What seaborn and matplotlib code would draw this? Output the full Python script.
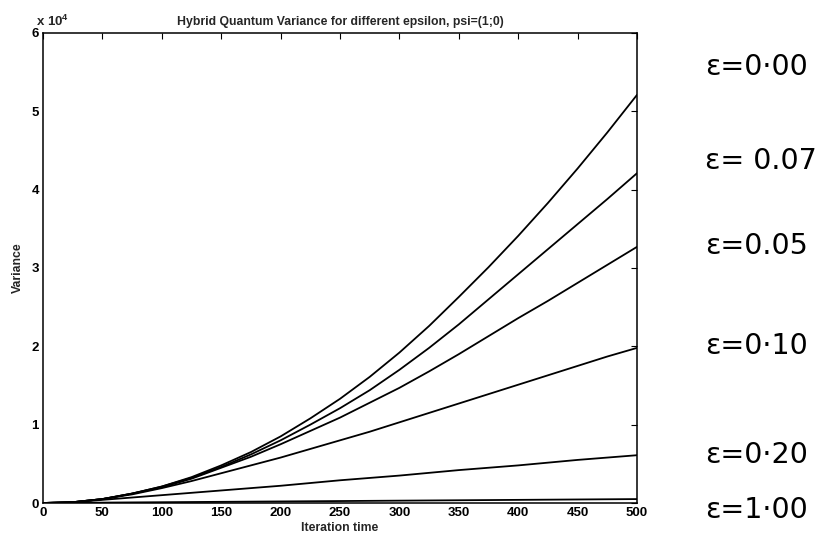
import numpy as np
import pandas as pd
import matplotlib
matplotlib.use("Agg")
import matplotlib.pyplot as plt
import seaborn as sns

# Data (variance values in units of 1e4)
iteration = [0, 25, 50, 75, 100, 125, 150, 175, 200, 225, 250,
             275, 300, 325, 350, 375, 400, 425, 450, 475, 500]
var_eps_000 = [0, 0.01, 0.05, 0.12, 0.21, 0.33, 0.48, 0.65, 0.85, 1.08, 1.33,
               1.61, 1.92, 2.26, 2.63, 3.01, 3.41, 3.83, 4.27, 4.73, 5.21]
var_eps_007 = [0, 0.01, 0.05, 0.12, 0.21, 0.32, 0.46, 0.62, 0.80, 1.00, 1.21,
               1.44, 1.70, 1.98, 2.28, 2.60, 2.92, 3.24, 3.56, 3.88, 4.21]
var_eps_005 = [0, 0.01, 0.05, 0.12, 0.20, 0.31, 0.45, 0.59, 0.75, 0.92, 1.09,
               1.28, 1.47, 1.68, 1.90, 2.13, 2.36, 2.58, 2.81, 3.04, 3.27]
var_eps_010 = [0, 0.01, 0.05, 0.11, 0.19, 0.28, 0.38, 0.48, 0.58, 0.69, 0.80,
               0.91, 1.03, 1.15, 1.27, 1.39, 1.51, 1.63, 1.75, 1.87, 1.98]
var_eps_020 = [0, 0.01, 0.04, 0.07, 0.10, 0.13, 0.16, 0.19, 0.22, 0.255, 0.29,
               0.32, 0.35, 0.385, 0.42, 0.45, 0.48, 0.515, 0.55, 0.58, 0.61]
var_eps_100 = [0, 0.0025, 0.005, 0.0075, 0.010, 0.0125, 0.015, 0.0175, 0.020, 0.0225, 0.025,
               0.0275, 0.030, 0.0325, 0.035, 0.0375, 0.040, 0.0425, 0.045, 0.0475, 0.050]

series_names = ["0.00", "0.07", "0.05", "0.10", "0.20", "1.00"]
series_vals = [var_eps_000, var_eps_007, var_eps_005, var_eps_010, var_eps_020, var_eps_100]
side_labels = ["ε=0·00", "ε= 0.07", "ε=0.05", "ε=0·10", "ε=0·20", "ε=1·00"]
side_label_y = [67, 161, 246, 346, 455, 510]  # pixel rows (layout only)

title = "Hybrid Quantum Variance for different epsilon, psi=(1;0)"
xlabel = "Iteration time"
ylabel = "Variance"
offset_label = "x 10$^{4}$"
xticks = [0, 50, 100, 150, 200, 250, 300, 350, 400, 450, 500]
yticks = [0, 1, 2, 3, 4, 5, 6]

rows = []
for name, vals in zip(series_names, series_vals):
    for t, v in zip(iteration, vals):
        rows.append({"t": t, "var": v, "eps": name})
df = pd.DataFrame(rows)

sns.set_style("white")
plt.rcParams['font.family'] = ['Liberation Sans', 'DejaVu Sans']
plt.rcParams['mathtext.fontset'] = 'custom'
plt.rcParams['mathtext.rm'] = 'Liberation Sans:bold'
plt.rcParams['mathtext.it'] = 'Liberation Sans:bold'
plt.rcParams['mathtext.bf'] = 'Liberation Sans:bold'

W, H = 831, 538
fig = plt.figure(figsize=(W / 100, H / 100), dpi=100)
ax = fig.add_axes([43 / W, 1 - 503 / H, (637 - 43) / W, (503 - 33) / H])

sns.lineplot(data=df, x="t", y="var", hue="eps", hue_order=series_names,
             palette=["black"] * len(series_names), linewidth=1.3,
             legend=False, ax=ax)

ax.set_xlim(0, 500)
ax.set_ylim(0, 6)
ax.set_xticks(xticks)
ax.set_yticks(yticks)
ax.set_yticklabels([str(v) for v in yticks])
ax.tick_params(direction="in", top=True, right=True, length=4, width=0.8,
               labelsize=9.5, colors="black", pad=3)
for lab in ax.get_xticklabels() + ax.get_yticklabels():
    lab.set_fontweight("bold")
for s in ax.spines.values():
    s.set_color("black")
    s.set_linewidth(1.1)
ax.set_xlabel(xlabel, fontsize=8.8, labelpad=2, fontweight="bold")
ax.set_ylabel(ylabel, fontsize=8.8, labelpad=5, fontweight="bold")
ax.set_title(title, fontsize=8.8, pad=6, fontweight="bold")
ax.text(-0.012, 1.008, offset_label, transform=ax.transAxes, fontsize=9.5,
        fontweight="bold", ha="left", va="bottom")

for lab, py in zip(side_labels, side_label_y):
    fig.text(705 / W, 1 - py / H, lab, fontsize=20.5, va="center", ha="left",
             color="black", family=["DejaVu Sans"])

fig.savefig("out.png", dpi=100)
